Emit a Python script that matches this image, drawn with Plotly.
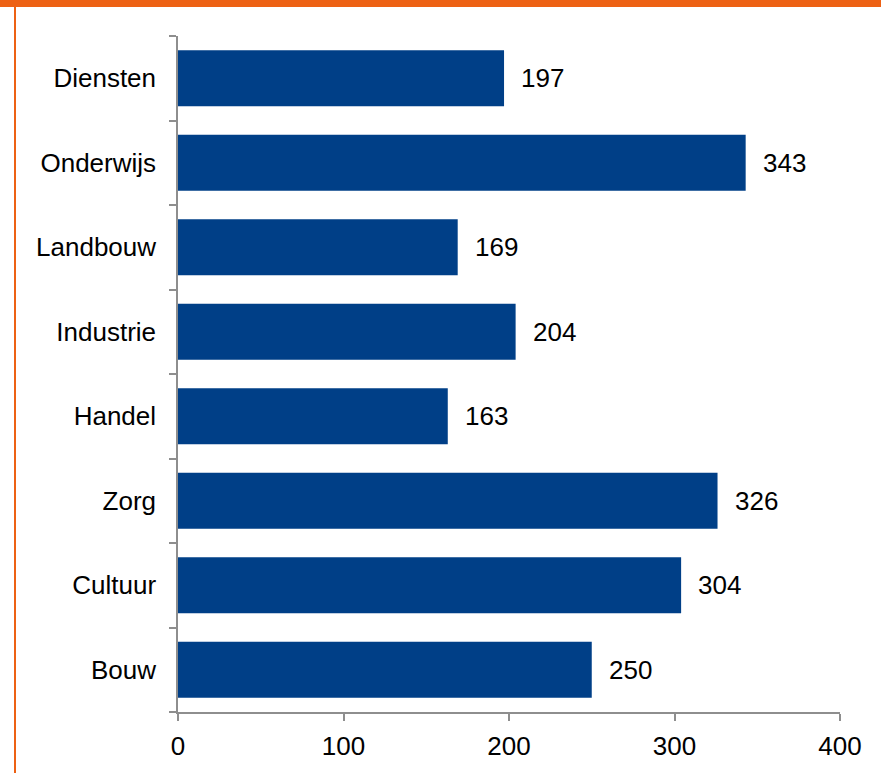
import plotly.graph_objects as go

categories = ["Bouw", "Cultuur", "Zorg", "Handel", "Industrie", "Landbouw", "Onderwijs", "Diensten"]
values = [250, 304, 326, 163, 204, 169, 343, 197]
x_ticks = [0, 100, 200, 300, 400]

W, H = 881, 773
L, R, T, B = 178, 41, 36, 59
pw, ph = W - L - R, H - T - B

def px_x(p):
    return (p - L) / pw

def px_y(p):
    return (H - B - p) / ph

BAR = "#003F87"
ORANGE = "#ED6114"
AXIS = "#8E8E8E"
FONT = dict(family="Liberation Sans, Arial, sans-serif", size=26, color="#000000")

fig = go.Figure()
fig.add_trace(go.Bar(
    x=values, y=categories, orientation="h",
    marker=dict(color=BAR, line=dict(width=0)),
    hoverinfo="skip",
))

for c, v in zip(categories, values):
    fig.add_annotation(x=v, y=c, text=str(v), showarrow=False,
                       xanchor="left", yanchor="middle", xshift=15,
                       font=FONT)

fig.add_shape(type="rect", xref="paper", yref="paper",
              x0=px_x(0), x1=px_x(W), y0=px_y(7), y1=px_y(0),
              fillcolor=ORANGE, line=dict(width=0), layer="below")
fig.add_shape(type="rect", xref="paper", yref="paper",
              x0=px_x(14), x1=px_x(16), y0=px_y(H + 20), y1=px_y(0),
              fillcolor=ORANGE, line=dict(width=0), layer="below")

fig.update_layout(
    width=W, height=H,
    margin=dict(l=L, r=R, t=T, b=B, pad=0),
    paper_bgcolor="white", plot_bgcolor="white",
    bargap=0.34,
    showlegend=False,
    font=FONT,
    hovermode=False,
    xaxis=dict(range=[0, 400], tickvals=x_ticks, ticktext=[str(t) for t in x_ticks],
               showgrid=False, zeroline=False, showline=True, linecolor=AXIS, linewidth=1.5,
               ticks="outside", ticklen=7, tickcolor=AXIS, tickwidth=1.5,
               tickfont=FONT, ticklabelstandoff=3, fixedrange=True),
    yaxis=dict(categoryorder="array", categoryarray=categories,
               showgrid=False, zeroline=False, showline=True, linecolor=AXIS, linewidth=1.5,
               ticks="outside", ticklen=7, tickcolor=AXIS, tickwidth=1.5,
               tickson="boundaries", tickfont=FONT, ticklabelstandoff=15, fixedrange=True),
)

fig.write_html("out.html", config={"displayModeBar": False},
               post_script="document.body.style.margin='0px';document.body.style.padding='0px';document.body.style.overflow='hidden';")
